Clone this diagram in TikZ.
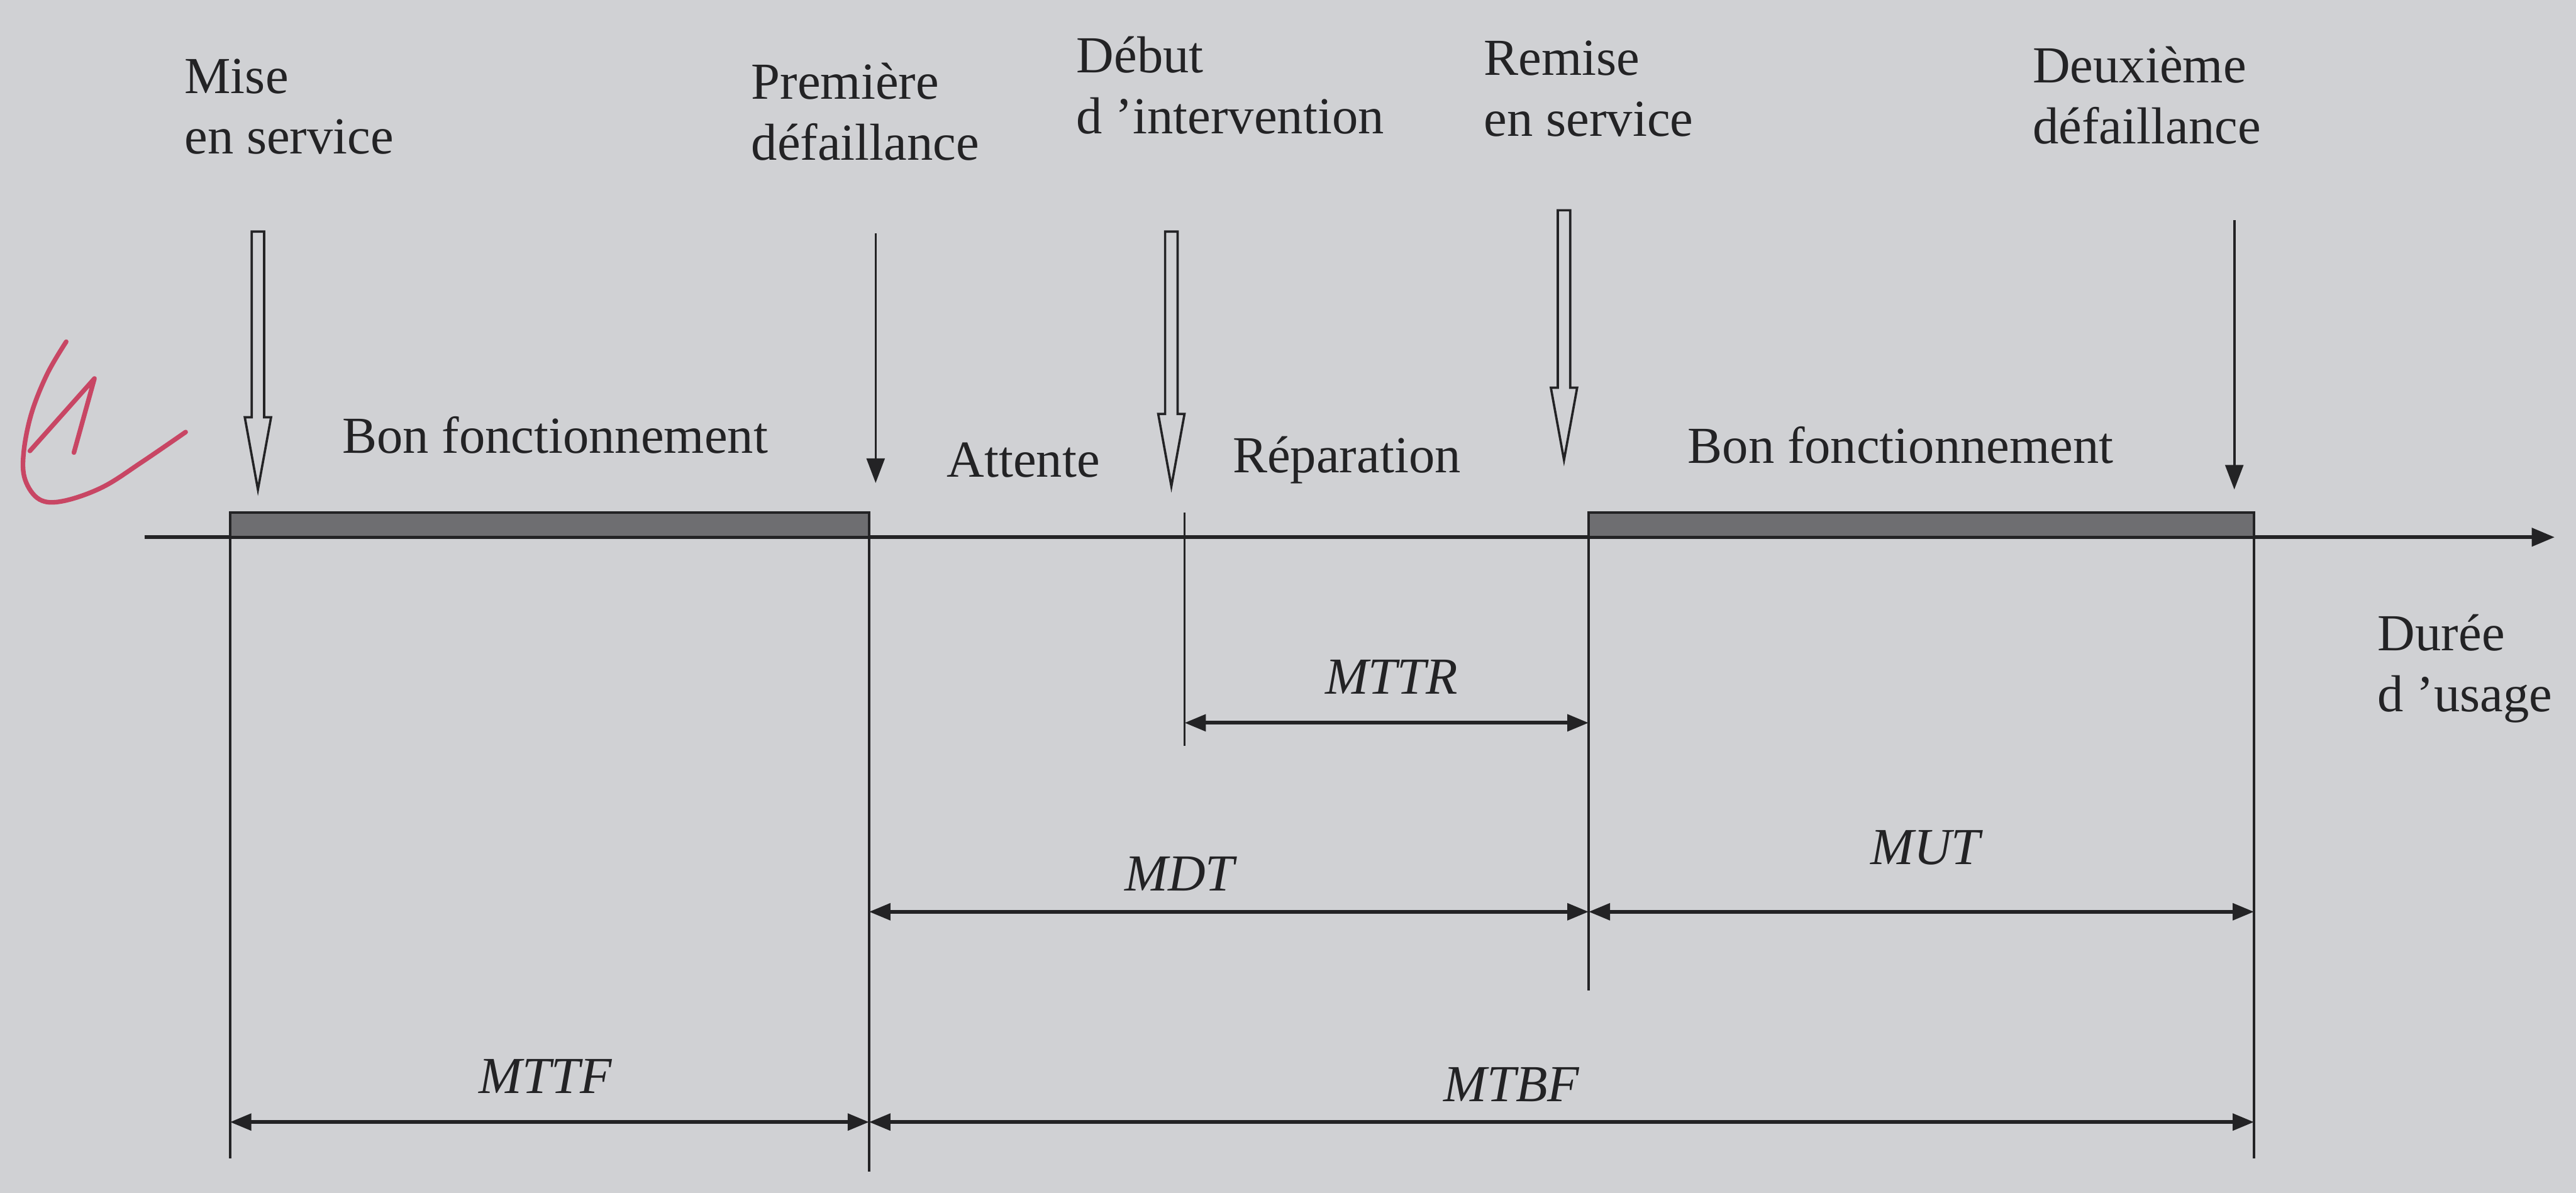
\documentclass[tikz,border=0pt]{standalone}
\usepackage{fontspec}
\setmainfont{Liberation Serif}
\usetikzlibrary{arrows.meta}
\definecolor{paper}{RGB}{208,209,212}
\definecolor{ink}{RGB}{35,35,37}
\definecolor{barfill}{RGB}{110,110,113}
\definecolor{redink}{RGB}{200,70,100}
\newcommand\hollowdown[3]{%
  \draw[hollow] (#1-3.8,#2) -- (#1+3.8,#2) -- (#1+3.8,#3-44) -- (#1+8,#3-44) -- (#1,#3)
    -- (#1-8,#3-44) -- (#1-3.8,#3-44) -- cycle;}
\begin{document}
\begin{tikzpicture}[x=0.02cm,y=-0.02cm,
  lbl/.style={font=\fontsize{18}{21}\selectfont, text=ink, inner sep=0pt, anchor=west, align=left},
  dimlbl/.style={font=\fontsize{18}{21}\selectfont\itshape, text=ink, inner sep=0pt},
  axisline/.style={draw=ink, line width=1.3pt, -{Triangle[length=0.28cm,width=0.22cm]}},
  tick/.style={draw=ink, line width=0.8pt},
  dimarrow/.style={draw=ink, line width=1.3pt, {Triangle[length=0.26cm,width=0.2cm]}-{Triangle[length=0.26cm,width=0.2cm]}},
  thinarrow/.style={draw=ink, line width=0.8pt, -{Triangle[length=0.3cm,width=0.22cm]}},
  bar/.style={draw=ink, fill=barfill, line width=0.9pt},
  hollow/.style={draw=ink, line width=0.8pt, fill=paper, line join=miter},
  redmark/.style={draw=redink, line width=1.6pt, line cap=round, line join=round}
]
\fill[paper] (0,0) rectangle (1568,726);
\useasboundingbox (0,0) rectangle (1568,726);

% axis and events
\coordinate (axL) at (88,327);
\coordinate (axR) at (1555,327);
\coordinate (E1) at (140,327);
\coordinate (E2) at (529,327);
\coordinate (E3) at (721,327);
\coordinate (E4) at (967,327);
\coordinate (E5) at (1372,327);

\draw[axisline] (axL) -- (axR);
\draw[bar] (E1) rectangle ([yshift=0.3cm]E2);
\draw[bar] (E4) rectangle ([yshift=0.3cm]E5);

% vertical reference lines
\draw[tick] (E1) -- (E1 |- 0,705);
\draw[tick] (E2) -- (E2 |- 0,713);
\draw[tick] (E3 |- 0,312) -- (E3 |- 0,454);
\draw[tick] (E4) -- (E4 |- 0,603);
\draw[tick] (E5) -- (E5 |- 0,705);

% event arrows
\hollowdown{157}{141}{298}
\coordinate (a2s) at (533,142); \coordinate (a2e) at (533,294);
\draw[thinarrow] (a2s) -- (a2e);
\hollowdown{713}{141}{296}
\hollowdown{952}{128}{280}
\coordinate (a5s) at (1360,134); \coordinate (a5e) at (1360,298);
\draw[thinarrow] (a5s) -- (a5e);

% event labels
\node[lbl] (mise) at (112,65) {Mise\\en service};
\node[lbl] (prem) at (457,68) {Première\\défaillance};
\node[lbl] (debut) at (655,52) {Début\\d 'intervention};
\node[lbl] (remise) at (903,54) {Remise\\en service};
\node[lbl] (deux) at (1237,58) {Deuxième\\défaillance};
\node[lbl] (bf1) at (208,265) {Bon fonctionnement};
\node[lbl] (bf2) at (1027,271) {Bon fonctionnement};
\node[lbl] (att) at (576,280) {Attente};
\node[lbl] (rep) at (750,280) {Réparation};
\node[lbl] (duree) at (1447,407) {Durée\\d 'usage};

% durations
\draw[dimarrow] (E3 |- 0,440) -- (E4 |- 0,440);
\draw[dimarrow] (E2 |- 0,555) -- (E4 |- 0,555);
\draw[dimarrow] (E4 |- 0,555) -- (E5 |- 0,555);
\draw[dimarrow] (E1 |- 0,683) -- (E2 |- 0,683);
\draw[dimarrow] (E2 |- 0,683) -- (E5 |- 0,683);
\node[dimlbl] (mttr) at (847,412) {MTTR};
\node[dimlbl] (mdt) at (718,532) {MDT};
\node[dimlbl] (mut) at (1172,516) {MUT};
\node[dimlbl] (mttf) at (332,655) {MTTF};
\node[dimlbl] (mtbf) at (920,660) {MTBF};

% handwritten red mark
\draw[redmark] plot[smooth, tension=0.6] coordinates {(40.3,208) (28.8,227.5) (19.2,251.5) (14.4,275.5) (15.3,292) (24,304) (38.4,305) (62.3,296.6) (86.3,281.3) (113,263)};
\draw[redmark] (18.2,274.5) -- (57.5,230.4) -- (45,275.5);
\end{tikzpicture}
\end{document}
